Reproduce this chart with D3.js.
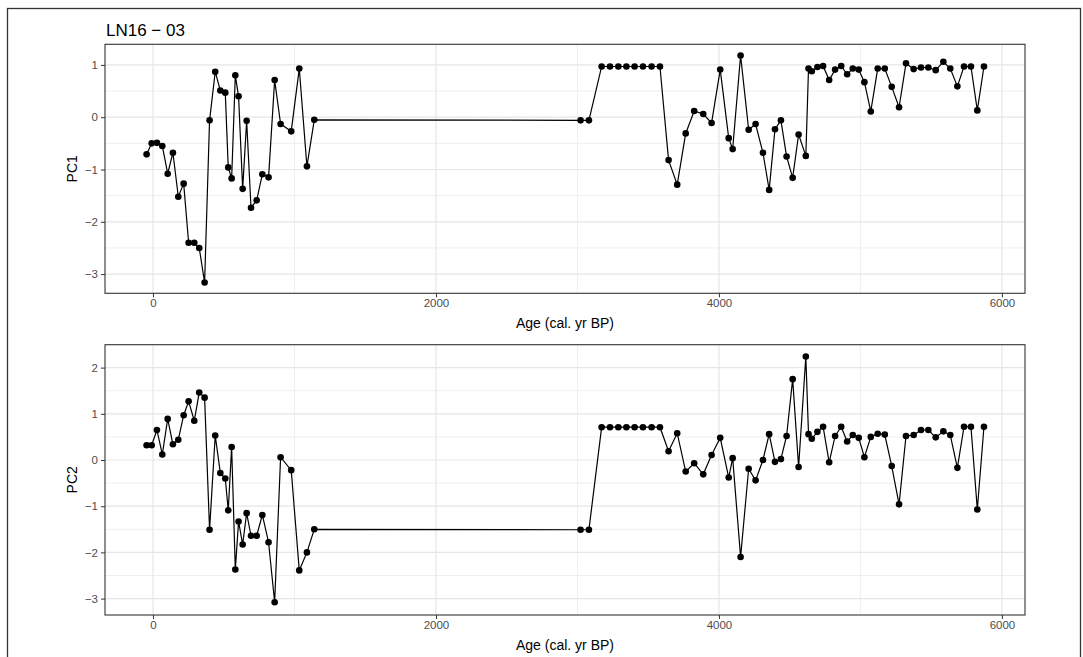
<!DOCTYPE html>
<html>
<head>
<meta charset="utf-8">
<script src="https://cdn.jsdelivr.net/npm/d3@7"></script>
<style>
  body { margin: 0; background: #fff; }
  svg { display: block; font-family: "Liberation Sans", Arial, sans-serif; }
  .tick text { fill: #4d4d4d; }
  .tick line { stroke: #333; }
</style>
</head>
<body>
<div id="chart"></div>
<script>
// sample ages (cal. yr BP)
var ages = [-45, -9, 28, 66, 104, 141, 179, 217, 252, 292, 327, 365, 400, 440, 476, 511,
  532, 556, 582, 605, 634, 662, 693, 733, 773, 817, 860, 902, 977, 1034, 1088, 1140,
  3022, 3081, 3171, 3230, 3289, 3346, 3404, 3463, 3524, 3583, 3644, 3705, 3765, 3825,
  3889, 3948, 4009, 4069, 4097, 4153, 4210, 4259, 4311, 4355, 4396, 4438, 4478, 4521, 4563,
  4614, 4633, 4656, 4696, 4736, 4779, 4821, 4864, 4906, 4946, 4988, 5028, 5073, 5122,
  5172, 5221, 5273, 5322, 5376, 5428, 5480, 5532, 5586, 5635, 5685, 5732, 5781, 5826, 5873];

var pc1 = [-0.71, -0.50, -0.49, -0.55, -1.08, -0.68, -1.52, -1.27, -2.40, -2.40, -2.50, -3.16,
  -0.06, 0.87, 0.51, 0.47, -0.96, -1.17, 0.80, 0.40, -1.37, -0.07, -1.73, -1.59, -1.09, -1.15,
  0.71, -0.13, -0.27, 0.93, -0.94, -0.05,
  -0.06, -0.06, 0.97, 0.97, 0.97, 0.97, 0.97, 0.97, 0.97, 0.97, -0.82, -1.29, -0.31, 0.12,
  0.06, -0.11, 0.91, -0.40, -0.61, 1.18, -0.24, -0.13, -0.68, -1.39, -0.23, -0.06, -0.75, -1.16, -0.33,
  -0.74, 0.93, 0.88, 0.96, 0.98, 0.71, 0.91, 0.98, 0.82, 0.93, 0.91, 0.67, 0.11, 0.93,
  0.93, 0.58, 0.19, 1.03, 0.92, 0.95, 0.95, 0.90, 1.06, 0.93, 0.59, 0.97, 0.97, 0.13, 0.97];

var pc2 = [0.32, 0.32, 0.65, 0.12, 0.89, 0.34, 0.44, 0.97, 1.27, 0.85, 1.46, 1.35,
  -1.51, 0.53, -0.28, -0.40, -1.09, 0.28, -2.37, -1.33, -1.83, -1.15, -1.64, -1.64, -1.19, -1.78,
  -3.08, 0.06, -0.22, -2.39, -2.00, -1.50,
  -1.51, -1.51, 0.71, 0.71, 0.71, 0.71, 0.71, 0.71, 0.71, 0.71, 0.19, 0.58, -0.25, -0.07,
  -0.31, 0.11, 0.48, -0.38, 0.04, -2.10, -0.19, -0.44, 0.00, 0.56, -0.04, 0.02, 0.52, 1.75, -0.15,
  2.24, 0.56, 0.46, 0.61, 0.72, -0.05, 0.52, 0.72, 0.40, 0.54, 0.48, 0.06, 0.50, 0.57,
  0.55, -0.13, -0.96, 0.52, 0.54, 0.65, 0.65, 0.49, 0.62, 0.54, -0.17, 0.72, 0.72, -1.07, 0.72];

var xTicks = [0, 2000, 4000, 6000];
var xMinor = [1000, 3000, 5000];
var pc1Ticks = [-3, -2, -1, 0, 1];
var pc2Ticks = [-3, -2, -1, 0, 1, 2];

function init () {
    var w = 1083;
    var h = 657;
    var left = 105, right = 1025;

    var svg = d3.select("#chart")
        .append("svg")
        .attr("width", w)
        .attr("height", h);

    // outer frame of the figure
    svg.append("rect")
        .attr("x", 7.5).attr("y", 8.5)
        .attr("width", 1073).attr("height", 660)
        .attr("fill", "none")
        .attr("stroke", "#333")
        .attr("stroke-width", 1.3);

    svg.append("text")
        .attr("x", left + 1)
        .attr("y", 36)
        .attr("font-size", 17)
        .attr("fill", "#000")
        .text("LN16 \u2212 03");

    var xScale = d3.scaleLinear()
        .domain([-339, 6163])
        .range([left, right]);

    var data1 = ages.map(function(a, i) { return {age: a, v: pc1[i]}; });
    var data2 = ages.map(function(a, i) { return {age: a, v: pc2[i]}; });

    panel(svg, xScale, data1, [-3.367, 1.394], [293.3, 44.3], pc1Ticks, "PC1");
    panel(svg, xScale, data2, [-3.355, 2.496], [615, 344.7], pc2Ticks, "PC2");
}

function panel (svg, xScale, data, yDomain, yRange, yTicks, label) {
    var yScale = d3.scaleLinear().domain(yDomain).range(yRange);
    var x0 = xScale.range()[0], x1 = xScale.range()[1];
    var top = yRange[1], bottom = yRange[0];

    var g = svg.append("g");

    // minor grid
    var yMinor = yTicks.map(function(t) { return t + 0.5; })
        .filter(function(t) { return t < yDomain[1]; });
    if (yTicks[0] - 0.5 > yDomain[0]) yMinor.push(yTicks[0] - 0.5);
    g.selectAll(".ymin").data(yMinor).enter().append("line")
        .attr("x1", x0).attr("x2", x1)
        .attr("y1", function(d) { return yScale(d); })
        .attr("y2", function(d) { return yScale(d); })
        .attr("stroke", "#ebebeb").attr("stroke-width", 0.8);
    g.selectAll(".xmin").data(xMinor).enter().append("line")
        .attr("y1", top).attr("y2", bottom)
        .attr("x1", function(d) { return xScale(d); })
        .attr("x2", function(d) { return xScale(d); })
        .attr("stroke", "#ebebeb").attr("stroke-width", 0.8);

    // major grid
    g.selectAll(".ymaj").data(yTicks).enter().append("line")
        .attr("x1", x0).attr("x2", x1)
        .attr("y1", function(d) { return yScale(d); })
        .attr("y2", function(d) { return yScale(d); })
        .attr("stroke", "#e6e6e6").attr("stroke-width", 1.2);
    g.selectAll(".xmaj").data(xTicks).enter().append("line")
        .attr("y1", top).attr("y2", bottom)
        .attr("x1", function(d) { return xScale(d); })
        .attr("x2", function(d) { return xScale(d); })
        .attr("stroke", "#e6e6e6").attr("stroke-width", 1.2);

    var line = d3.line()
        .x(function(d) { return xScale(d.age); })
        .y(function(d) { return yScale(d.v); });

    g.append("path")
        .datum(data)
        .attr("d", line)
        .attr("fill", "none")
        .attr("stroke", "#000")
        .attr("stroke-width", 1.2);

    g.selectAll("circle").data(data).enter().append("circle")
        .attr("cx", function(d) { return xScale(d.age); })
        .attr("cy", function(d) { return yScale(d.v); })
        .attr("r", 3.3)
        .attr("fill", "#000");

    // panel border
    g.append("rect")
        .attr("x", x0).attr("y", top)
        .attr("width", x1 - x0).attr("height", bottom - top)
        .attr("fill", "none")
        .attr("stroke", "#333")
        .attr("stroke-width", 1.1);

    var xAxis = d3.axisBottom(xScale).tickValues(xTicks).tickSize(4).tickPadding(2)
        .tickFormat(d3.format("d"));
    var yAxis = d3.axisLeft(yScale).tickValues(yTicks).tickSize(4).tickPadding(3)
        .tickFormat(function(d) { return d < 0 ? "\u2212" + Math.abs(d) : d; });

    svg.append("g")
        .attr("transform", "translate(0," + bottom + ")")
        .call(xAxis)
        .call(function(s) { s.select(".domain").remove(); })
        .selectAll("text").attr("font-size", 11.5).attr("font-family", null);

    svg.append("g")
        .attr("transform", "translate(" + x0 + ",0)")
        .call(yAxis)
        .call(function(s) { s.select(".domain").remove(); })
        .selectAll("text").attr("font-size", 11.5).attr("font-family", null);

    svg.append("text")
        .attr("x", (x0 + x1) / 2)
        .attr("y", bottom + 35)
        .attr("text-anchor", "middle")
        .attr("font-size", 14)
        .text("Age (cal. yr BP)");

    svg.append("text")
        .attr("transform", "translate(77," + ((top + bottom) / 2) + ") rotate(-90)")
        .attr("text-anchor", "middle")
        .attr("font-size", 14)
        .text(label);
}

window.onload = init;
</script>
</body>
</html>
